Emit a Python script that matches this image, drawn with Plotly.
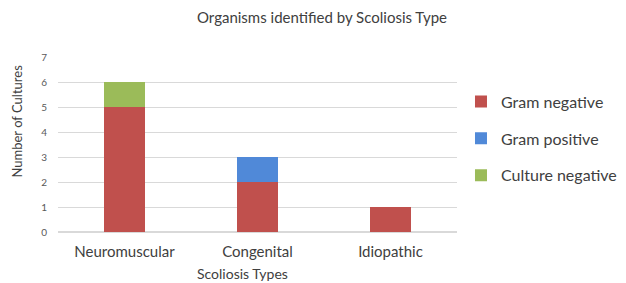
import plotly.graph_objects as go

categories = ["Neuromuscular", "Congenital", "Idiopathic"]
gram_negative = [5, 2, 1]
gram_positive = [0, 1, 0]
culture_negative = [1, 0, 0]
y_ticks = [0, 1, 2, 3, 4, 5, 6, 7]

font = "Lato, Open Sans, sans-serif"
fig = go.Figure()
fig.add_bar(name="Gram negative", x=categories, y=gram_negative, marker_color="#C0504D",
            marker_line_width=0, legendgroup="a")
fig.add_bar(name="Gram positive", x=categories, y=gram_positive, marker_color="#5089D8",
            marker_line_width=0, legendgroup="b")
fig.add_bar(name="Culture negative", x=categories, y=culture_negative, marker_color="#9BBB59",
            marker_line_width=0, legendgroup="c")

fig.update_layout(
    barmode="stack",
    bargap=0.69,
    width=626, height=283,
    margin=dict(l=50, r=172, t=49, b=59),
    paper_bgcolor="white", plot_bgcolor="white",
    font=dict(family=font, color="#595959"),
    title=dict(text="Organisms identified by Scoliosis Type", x=0.5016, xanchor="center", y=0.965, yanchor="middle",
               font=dict(size=15, color="#404040")),
    legend=dict(x=1.01, y=0.842, xanchor="left", yanchor="top", font=dict(size=16, color="#404040"),
                tracegroupgap=13, itemwidth=30, traceorder="grouped"),
    showlegend=True,
    annotations=[
        dict(text="Number of Cultures", xref="paper", yref="paper", x=-0.1015, y=0.634,
             xanchor="center", yanchor="middle", textangle=-90, showarrow=False,
             font=dict(size=13, color="#404040")),
        dict(text="Scoliosis Types", xref="paper", yref="paper", x=0.463, y=-0.236,
             xanchor="center", yanchor="middle", showarrow=False,
             font=dict(size=14, color="#404040")),
    ],
)
fig.update_xaxes(showline=False, ticks="", tickfont=dict(size=15, color="#404040"), automargin=False,
                 ticklabelstandoff=9)
fig.update_yaxes(range=[0, 7], tickvals=y_ticks, showgrid=True, gridcolor="#D9D9D9", zeroline=True,
                 zerolinecolor="#D9D9D9", tickfont=dict(size=10, color="#595959"), ticklabelstandoff=10,
                 automargin=False)
fig.write_html("out.html")
